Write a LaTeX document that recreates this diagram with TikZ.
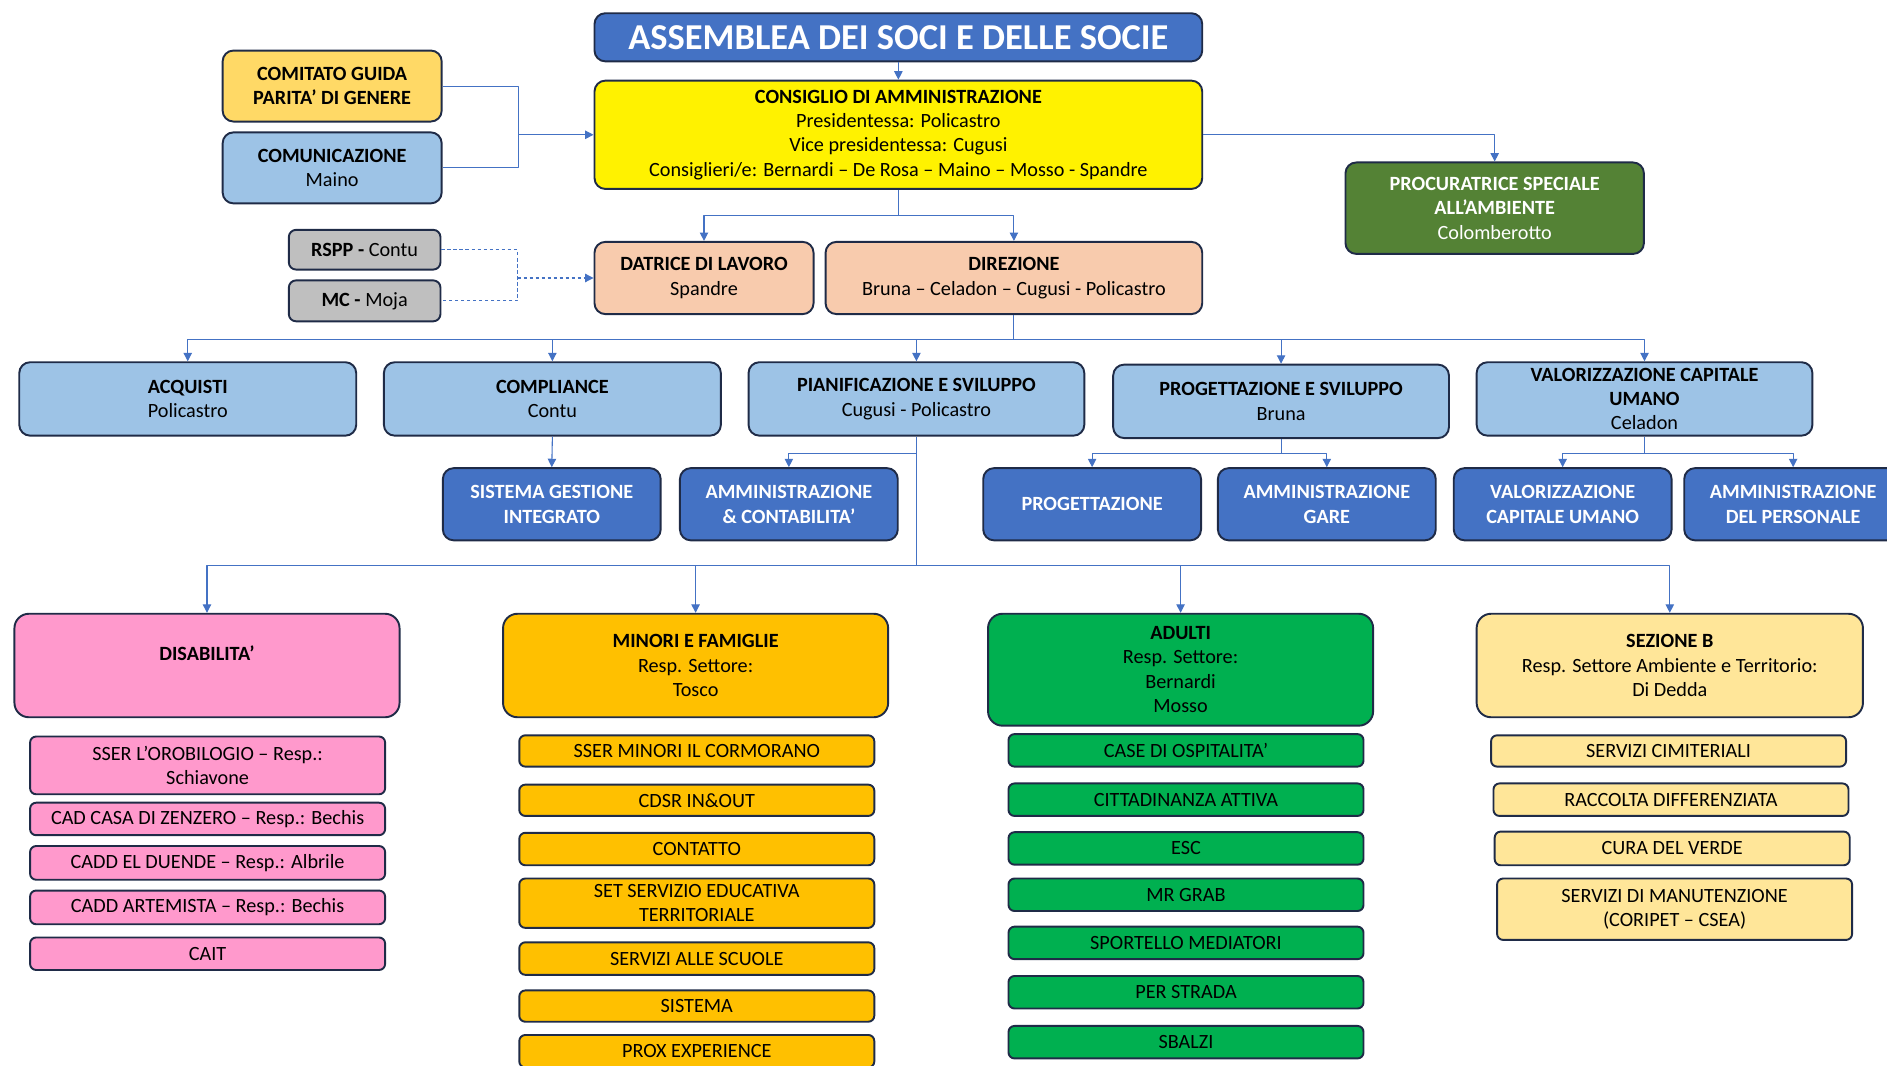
\documentclass[tikz,border=0pt]{standalone}
\usepackage{fontspec}
\setmainfont{Carlito}
\usetikzlibrary{arrows.meta}
\definecolor{lineblue}{HTML}{4472C4}
\definecolor{edge}{HTML}{1F2B47}
\definecolor{lblue}{HTML}{9DC3E6}
\definecolor{gold}{HTML}{FFD966}
\definecolor{olive}{HTML}{548235}
\definecolor{peach}{HTML}{F8CBAD}
\definecolor{greyc}{HTML}{BFBFBF}
\definecolor{pinkc}{HTML}{FF99CC}
\definecolor{orangec}{HTML}{FFC000}
\definecolor{greenc}{HTML}{00B050}
\definecolor{cream}{HTML}{FFE699}
\begin{document}
\begin{tikzpicture}[x=1pt,y=-1pt,line join=round,>={Triangle[length=7pt,width=7pt]},
  font=\fontsize{16.8}{20.3}\selectfont,
  box/.style={draw=edge,line width=1.6pt,rounded corners=9pt,align=center,inner sep=0pt},
  sub/.style={draw=edge,line width=1.6pt,rounded corners=5pt,align=center,inner sep=0pt,minimum width=295pt},
  link/.style={draw=lineblue,line width=0.9pt}]
\clip (0,0) rectangle (1568,885);
% vertice
\node[box,fill=lineblue,text=white,minimum width=505pt,minimum height=40pt,font=\fontsize{30.3}{31}\selectfont\bfseries] (assem) at (746.5,31) {ASSEMBLEA DEI SOCI E DELLE SOCIE};
\node[box,fill=yellow,minimum width=505pt,minimum height=90pt] (consig) at (746.5,112) {\textbf{CONSIGLIO DI AMMINISTRAZIONE}\\Presidentessa: Policastro\\Vice presidentessa: Cugusi\\Consiglieri/e: Bernardi -- De Rosa -- Maino -- Mosso - Spandre};
\node[box,fill=gold,minimum width=182pt,minimum height=59pt] (comit) at (276,71.5) {\textbf{COMITATO GUIDA}\\\textbf{PARITA’ DI GENERE}};
\node[box,fill=lblue,minimum width=182pt,minimum height=59pt] (comun) at (276,139.5) {\textbf{COMUNICAZIONE}\\Maino};
\node[box,fill=olive,text=white,minimum width=248pt,minimum height=76pt] (procur) at (1242,173) {\textbf{PROCURATRICE SPECIALE}\\\textbf{ALL’AMBIENTE}\\Colomberotto};
\node[box,fill=peach,minimum width=182pt,minimum height=60pt] (datr) at (585,231) {\textbf{DATRICE DI LAVORO}\\Spandre};
\node[box,fill=peach,minimum width=313pt,minimum height=60pt] (dir) at (842.5,231) {\textbf{DIREZIONE}\\Bruna -- Celadon -- Cugusi - Policastro};
\node[box,fill=greyc,rounded corners=6pt,minimum width=126pt,minimum height=33pt] (rspp) at (303,207.5) {\textbf{RSPP -} Contu};
\node[box,fill=greyc,rounded corners=6pt,minimum width=126pt,minimum height=34pt] (mc) at (303,250) {\textbf{MC -} Moja};
% aree
\node[box,fill=lblue,minimum width=280pt,minimum height=61pt] (acq) at (156,331.5) {\textbf{ACQUISTI}\\Policastro};
\node[box,fill=lblue,minimum width=280pt,minimum height=61pt] (compl) at (459,331.5) {\textbf{COMPLIANCE}\\Contu};
\node[box,fill=lblue,minimum width=279pt,minimum height=61pt] (pian) at (761.5,331.5) {\textbf{PIANIFICAZIONE E SVILUPPO}\\Cugusi - Policastro};
\node[box,fill=lblue,minimum width=279pt,minimum height=61pt] (progsv) at (1064.5,333.5) {\textbf{PROGETTAZIONE E SVILUPPO}\\Bruna};
\node[box,fill=lblue,minimum width=279pt,minimum height=61pt] (valcu) at (1366.5,331.5) {\textbf{VALORIZZAZIONE CAPITALE}\\\textbf{UMANO}\\Celadon};
\node[box,fill=lineblue,text=white,font=\fontsize{16.8}{20.3}\selectfont\bfseries,minimum width=181pt,minimum height=60pt] (sgi) at (458.5,419) {SISTEMA GESTIONE\\INTEGRATO};
\node[box,fill=lineblue,text=white,font=\fontsize{16.8}{20.3}\selectfont\bfseries,minimum width=181pt,minimum height=60pt] (ammcont) at (655.5,419) {AMMINISTRAZIONE\\\& CONTABILITA’};
\node[box,fill=lineblue,text=white,font=\fontsize{16.8}{20.3}\selectfont\bfseries,minimum width=181pt,minimum height=60pt] (prog) at (907.5,419) {PROGETTAZIONE};
\node[box,fill=lineblue,text=white,font=\fontsize{16.8}{20.3}\selectfont\bfseries,minimum width=181pt,minimum height=60pt] (ammgare) at (1102.5,419) {AMMINISTRAZIONE\\GARE};
\node[box,fill=lineblue,text=white,font=\fontsize{16.8}{20.3}\selectfont\bfseries,minimum width=181pt,minimum height=60pt] (valcuu) at (1298.5,419) {VALORIZZAZIONE\\CAPITALE UMANO};
\node[box,fill=lineblue,text=white,font=\fontsize{16.8}{20.3}\selectfont\bfseries,minimum width=181pt,minimum height=60pt] (ammpers) at (1490,419) {AMMINISTRAZIONE\\DEL PERSONALE};
% settori
\node[box,fill=pinkc,rounded corners=12pt,minimum width=320pt,minimum height=86pt] (disab) at (172,553) {\textbf{DISABILITA’}\\\mbox{}};
\node[box,fill=orangec,rounded corners=12pt,minimum width=320pt,minimum height=86pt] (minori) at (578,553) {\textbf{MINORI E FAMIGLIE}\\Resp. Settore:\\Tosco};
\node[box,fill=greenc,rounded corners=12pt,minimum width=320pt,minimum height=93pt] (adulti) at (981,556.5) {\textbf{ADULTI}\\Resp. Settore:\\Bernardi\\Mosso};
\node[box,fill=cream,rounded corners=12pt,minimum width=321pt,minimum height=86pt] (sezb) at (1387.5,553) {\textbf{SEZIONE B}\\Resp. Settore Ambiente e Territorio:\\Di Dedda};
% servizi
\foreach \n/\y/\h/\t in {1/636/48/{SSER L’OROBILOGIO -- Resp.:\\Schiavone},2/680.5/27/{CAD CASA DI ZENZERO -- Resp.: Bechis},3/717/28/{CADD EL DUENDE -- Resp.: Albrile},4/754/28/{CADD ARTEMISTA -- Resp.: Bechis},5/792.5/27/CAIT}
  {\node[sub,fill=pinkc,minimum height=\h pt] (dis\n) at (172.5,\y) {\t};}
\foreach \n/\y/\h/\t in {1/624/26/SSER MINORI IL CORMORANO,2/665/26/CDSR IN\&OUT,3/705.5/27/CONTATTO,4/750.5/41/{SET SERVIZIO EDUCATIVA\\TERRITORIALE},5/796.5/27/SERVIZI ALLE SCUOLE,6/836/26/SISTEMA,7/873.5/27/PROX EXPERIENCE}
  {\node[sub,fill=orangec,minimum height=\h pt] (min\n) at (579,\y) {\t};}
\foreach \n/\y/\t in {1/623.5/CASE DI OSPITALITA’,2/664.5/CITTADINANZA ATTIVA,3/705/ESC,4/743.5/MR GRAB,5/783.5/SPORTELLO MEDIATORI,6/824.5/PER STRADA,7/866/SBALZI}
  {\node[sub,fill=greenc,minimum height=27pt] (adu\n) at (985.5,\y) {\t};}
\foreach \n/\x/\y/\h/\t in {1/1386.5/624/26/SERVIZI CIMITERIALI,2/1388.5/664.5/27/RACCOLTA DIFFERENZIATA,3/1389.5/705/28/CURA DEL VERDE,4/1391.5/755.5/51/{SERVIZI DI MANUTENZIONE\\(CORIPET -- CSEA)}}
  {\node[sub,fill=cream,minimum height=\h pt] (sez\n) at (\x,\y) {\t};}
% collegamenti
\coordinate (j1) at (431,112);
\coordinate (j2) at (746.5,179);
\coordinate (j3) at (430,231);
\coordinate (j4) at (842.5,282);
\coordinate (j5) at (761.5,377);
\coordinate (j6) at (761.5,470);
\coordinate (j7) at (1064.5,377);
\coordinate (j8) at (1366.5,377);
\draw[link,->] (assem) -- (consig);
\draw[link] (comit.east) -| (j1) |- (comun.east);
\draw[link,->] (j1) -- (consig.west);
\draw[link,->] (consig.east) -| (procur.north);
\draw[link] (consig.south) -- (j2);
\draw[link,->] (j2) -| (datr.north);
\draw[link,->] (j2) -| (dir.north);
\draw[link,dash pattern=on 3pt off 2pt] (rspp.east) -| (j3) |- (mc.east);
\draw[link,dash pattern=on 3pt off 2pt,->] (j3) -- (datr.west);
\draw[link] (dir.south) -- (j4);
\foreach \n in {acq,compl,pian,progsv,valcu}
  {\draw[link,->] (j4) -| (\n.north);}
\draw[link,->] (compl.south) -- (sgi.north);
\draw[link] (pian.south) -- (j5) -- (j6);
\draw[link,->] (j5) -| (ammcont.north);
\foreach \n in {disab,minori,adulti,sezb}
  {\draw[link,->] (j6) -| (\n.north);}
\draw[link] (progsv.south) -- (j7);
\draw[link,->] (j7) -| (prog.north);
\draw[link,->] (j7) -| (ammgare.north);
\draw[link] (valcu.south) -- (j8);
\draw[link,->] (j8) -| (valcuu.north);
\draw[link,->] (j8) -| (ammpers.north);
\end{tikzpicture}
\end{document}
